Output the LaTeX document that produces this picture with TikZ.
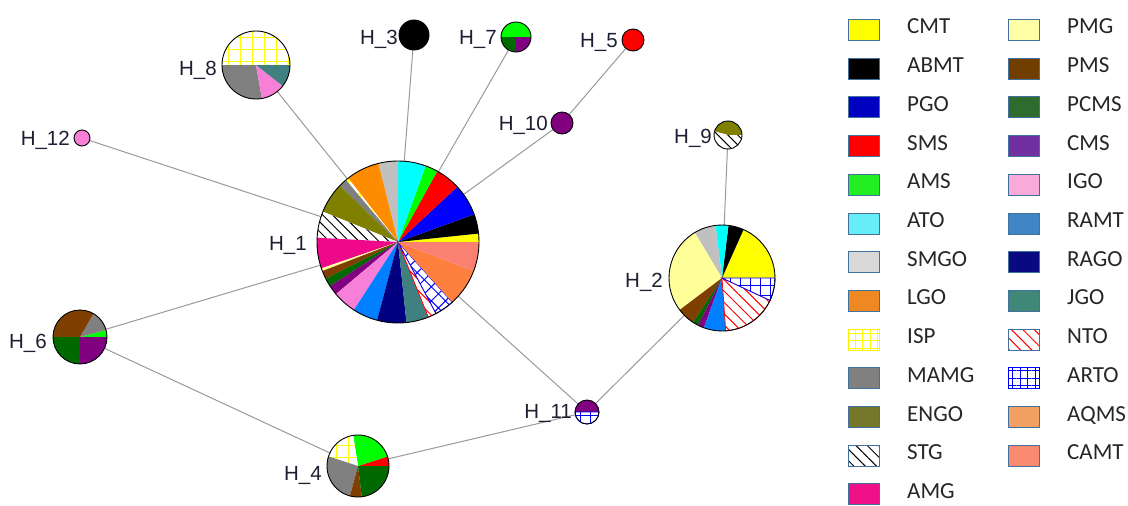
\documentclass[tikz,border=0pt]{standalone}
\usepackage{fontspec}
\setmainfont{Liberation Sans}
\newfontfamily\legfont{Carlito}
\usetikzlibrary{patterns.meta}
% pie colours
\definecolor{pCMT}{HTML}{FFFF00}
\definecolor{pABMT}{HTML}{000000}
\definecolor{pPGO}{HTML}{0000FF}
\definecolor{pSMS}{HTML}{FF0000}
\definecolor{pAMS}{HTML}{00FF00}
\definecolor{pATO}{HTML}{00FFFF}
\definecolor{pSMGO}{HTML}{C0C0C0}
\definecolor{pLGO}{HTML}{FF8C00}
\definecolor{pMAMG}{HTML}{808080}
\definecolor{pENGO}{HTML}{808000}
\definecolor{pAMG}{HTML}{F0088A}
\definecolor{pPMG}{HTML}{FFFF99}
\definecolor{pPMS}{HTML}{7F3F00}
\definecolor{pPCMS}{HTML}{006A00}
\definecolor{pCMS}{HTML}{800080}
\definecolor{pIGO}{HTML}{F77FD8}
\definecolor{pRAMT}{HTML}{0080FF}
\definecolor{pRAGO}{HTML}{000080}
\definecolor{pJGO}{HTML}{408080}
\definecolor{pAQMS}{HTML}{FF7F3F}
\definecolor{pCAMT}{HTML}{FA8072}
% legend colours
\definecolor{lCMT}{HTML}{FFFF00}
\definecolor{lABMT}{HTML}{000000}
\definecolor{lPGO}{HTML}{0000C0}
\definecolor{lSMS}{HTML}{FF0000}
\definecolor{lAMS}{HTML}{22EE22}
\definecolor{lATO}{HTML}{66EEF8}
\definecolor{lSMGO}{HTML}{D9D9D9}
\definecolor{lLGO}{HTML}{EE8822}
\definecolor{lMAMG}{HTML}{808080}
\definecolor{lENGO}{HTML}{77772A}
\definecolor{lAMG}{HTML}{EE1188}
\definecolor{lPMG}{HTML}{FFFFA6}
\definecolor{lPMS}{HTML}{703F00}
\definecolor{lPCMS}{HTML}{2E6B2E}
\definecolor{lCMS}{HTML}{7030A0}
\definecolor{lIGO}{HTML}{F8AAD8}
\definecolor{lRAMT}{HTML}{3F86C6}
\definecolor{lRAGO}{HTML}{0A0A80}
\definecolor{lJGO}{HTML}{3F8878}
\definecolor{lAQMS}{HTML}{F0A060}
\definecolor{lCAMT}{HTML}{F88A70}
\definecolor{lborder}{HTML}{41719C}
\definecolor{edgegray}{HTML}{9A9A9A}
\definecolor{lbltext}{HTML}{1E1E32}
\definecolor{legtext}{HTML}{262626}

\tikzset{
  vtx/.style={circle, inner sep=0pt, outer sep=0pt, minimum size=#1},
  edge/.style={draw=edgegray, line width=1pt},
  pieedge/.style={draw=black, line width=0.9pt},
  lbl/.style={inner sep=0pt, anchor=base east, text=lbltext, font=\fontsize{20.5}{24}\selectfont},
  lbox/.style={rectangle, inner sep=0pt, minimum width=31pt, minimum height=21pt, draw=lborder, line width=0.9pt},
  ltxt/.style={inner sep=0pt, anchor=base west, text=legtext, font=\legfont\fontsize{23}{27}\selectfont},
  sCMT/.style={fill=pCMT}, sABMT/.style={fill=pABMT}, sPGO/.style={fill=pPGO},
  sSMS/.style={fill=pSMS}, sAMS/.style={fill=pAMS}, sATO/.style={fill=pATO},
  sSMGO/.style={fill=pSMGO}, sLGO/.style={fill=pLGO}, sMAMG/.style={fill=pMAMG},
  sENGO/.style={fill=pENGO}, sAMG/.style={fill=pAMG}, sPMG/.style={fill=pPMG},
  sPMS/.style={fill=pPMS}, sPCMS/.style={fill=pPCMS}, sCMS/.style={fill=pCMS},
  sIGO/.style={fill=pIGO}, sRAMT/.style={fill=pRAMT}, sRAGO/.style={fill=pRAGO},
  sJGO/.style={fill=pJGO}, sAQMS/.style={fill=pAQMS}, sCAMT/.style={fill=pCAMT},
  sISP/.style={preaction={fill=white}, pattern={Hatch[angle=0,distance=12pt,line width=1pt]}, pattern color=yellow},
  sSTG/.style={preaction={fill=white}, pattern={Lines[angle=-45,distance=7pt,line width=1pt]}, pattern color=black},
  sNTO/.style={preaction={fill=white}, pattern={Lines[angle=-45,distance=8pt,line width=1pt]}, pattern color=red, draw=red, line width=0.8pt},
  sARTO/.style={preaction={fill=white}, pattern={Hatch[angle=0,distance=10pt,line width=1pt]}, pattern color=blue, draw=blue, line width=0.8pt},
  sARTOd/.style={preaction={fill=white}, pattern={Hatch[angle=45,distance=10pt,line width=1pt]}, pattern color=blue, draw=blue, line width=0.8pt},
  kISP/.style={preaction={fill=white}, pattern={Hatch[angle=0,distance=7.5pt,line width=1pt]}, pattern color=yellow, draw=yellow},
  kSTG/.style={preaction={fill=white}, pattern={Lines[angle=-45,distance=8pt,line width=1pt]}, pattern color=black},
  kNTO/.style={preaction={fill=white}, pattern={Lines[angle=-45,distance=8pt,line width=1pt]}, pattern color=red},
  kARTO/.style={preaction={fill=white}, pattern={Hatch[angle=0,distance=7.5pt,line width=1pt]}, pattern color=blue, draw=blue},
}

\newcommand\drawpie[3]{%
  \foreach \a/\b/\s in {#3}{%
    \fill[\s] (#1.center) -- ++(\a:#2) arc[start angle=\a,end angle=\b,radius=#2] -- cycle;}%
  \draw[pieedge] (#1.center) circle[radius=#2];}

\newcommand\legitem[4]{%
  \pgfmathsetmacro\lx{863.5+160*#3}%
  \pgfmathsetmacro\ly{-(30+38.7*#4)}%
  \node[lbox,#2] (k#1) at (\lx,\ly) {};
  \node[ltxt] (t#1) at (\lx+43.5,\ly-4) {#1};}

\begin{document}
\begin{tikzpicture}[x=1pt,y=1pt]
\useasboundingbox[fill=white] (0,0) rectangle (1128,-506);

% vertices
\node[vtx=162pt] (H1) at (398,-242) {};
\node[vtx=106pt] (H2) at (722,-278) {};
\node[vtx=30pt] (H3) at (414,-35) {};
\node[vtx=62pt] (H4) at (358,-466) {};
\node[vtx=22pt] (H5) at (633,-40) {};
\node[vtx=54pt] (H6) at (80,-337) {};
\node[vtx=30pt] (H7) at (516,-37) {};
\node[vtx=68pt] (H8) at (256,-65) {};
\node[vtx=28pt] (H9) at (728,-135) {};
\node[vtx=22pt] (H10) at (562,-123) {};
\node[vtx=24pt] (H11) at (587,-412) {};
\node[vtx=16pt] (H12) at (82,-138) {};

% edges
\draw[edge] (H1) -- (H3);
\draw[edge] (H1) -- (H7);
\draw[edge] (H1) -- (H10);
\draw[edge] (H10) -- (H5);
\draw[edge] (H1) -- (H8);
\draw[edge] (H1) -- (H12);
\draw[edge] (H1) -- (H6);
\draw[edge] (H1) -- (H11);
\draw[edge] (H11) -- (H2);
\draw[edge] (H11) -- (H4);
\draw[edge] (H4) -- (H6);
\draw[edge] (H2) -- (H9);

% pies
\drawpie{H1}{81}{0/6/sCMT, 6/20/sABMT, 20/43/sPGO, 43/61/sSMS, 61/70/sAMS, 70/90/sATO,
  90/104/sSMGO, 104/128/sLGO, 128/130/sISP, 130/136/sMAMG, 136/158/sENGO, 158/177/sSTG,
  177/199/sAMG, 199/201/sPMG, 201/207/sPMS, 207/213/sPCMS, 213/220/sCMS, 220/237/sIGO,
  237/255/sRAMT, 255/276/sRAGO, 276/292/sJGO, 292/298/sNTO, 298/312/sARTOd, 312/339/sAQMS, 339/360/sCAMT}
\drawpie{H2}{53}{0/66/sCMT, 66/83/sABMT, 83/97/sATO, 97/121/sSMGO, 121/217/sPMG, 217/237/sPMS,
  237/243/sPCMS, 243/250/sCMS, 250/274/sRAMT, 274/335/sNTO, 335/360/sARTO}
\drawpie{H3}{15}{0/360/sABMT}
\drawpie{H4}{31}{0/18/sSMS, 18/99/sAMS, 99/162/sISP, 162/255/sMAMG, 255/277/sPMS, 277/360/sPCMS}
\drawpie{H5}{11}{0/360/sSMS}
\drawpie{H6}{27}{0/15/sAMS, 15/60/sMAMG, 60/180/sPMS, 180/270/sPCMS, 270/360/sCMS}
\drawpie{H7}{15}{0/180/sAMS, 180/270/sPCMS, 270/360/sCMS}
\drawpie{H8}{34}{0/180/sISP, 180/280/sMAMG, 280/322/sIGO, 322/360/sJGO}
\drawpie{H9}{14}{0/165/sENGO, 165/360/sSTG}
\drawpie{H10}{11}{0/360/sCMS}
\drawpie{H11}{12}{0/180/sCMS, 180/360/sARTO}
\drawpie{H12}{8}{0/360/sIGO}

% vertex labels
\node[lbl] (L1) at (307,-250) {H\_1};
\node[lbl] (L2) at (663,-287) {H\_2};
\node[lbl] (L3) at (398,-45) {H\_3};
\node[lbl] (L4) at (322,-480) {H\_4};
\node[lbl] (L5) at (618,-47) {H\_5};
\node[lbl] (L6) at (47,-348) {H\_6};
\node[lbl] (L7) at (497,-45) {H\_7};
\node[lbl] (L8) at (217,-75) {H\_8};
\node[lbl] (L9) at (712,-143) {H\_9};
\node[lbl] (L10) at (548,-130) {H\_10};
\node[lbl] (L11) at (572,-418) {H\_11};
\node[lbl] (L12) at (70,-145) {H\_12};

% legend
\legitem{CMT}{fill=lCMT}{0}{0}
\legitem{ABMT}{fill=lABMT}{0}{1}
\legitem{PGO}{fill=lPGO}{0}{2}
\legitem{SMS}{fill=lSMS}{0}{3}
\legitem{AMS}{fill=lAMS}{0}{4}
\legitem{ATO}{fill=lATO}{0}{5}
\legitem{SMGO}{fill=lSMGO}{0}{6}
\legitem{LGO}{fill=lLGO}{0}{7}
\legitem{ISP}{kISP}{0}{8}
\legitem{MAMG}{fill=lMAMG}{0}{9}
\legitem{ENGO}{fill=lENGO}{0}{10}
\legitem{STG}{kSTG}{0}{11}
\legitem{AMG}{fill=lAMG}{0}{12}
\legitem{PMG}{fill=lPMG}{1}{0}
\legitem{PMS}{fill=lPMS}{1}{1}
\legitem{PCMS}{fill=lPCMS}{1}{2}
\legitem{CMS}{fill=lCMS}{1}{3}
\legitem{IGO}{fill=lIGO}{1}{4}
\legitem{RAMT}{fill=lRAMT}{1}{5}
\legitem{RAGO}{fill=lRAGO}{1}{6}
\legitem{JGO}{fill=lJGO}{1}{7}
\legitem{NTO}{kNTO}{1}{8}
\legitem{ARTO}{kARTO}{1}{9}
\legitem{AQMS}{fill=lAQMS}{1}{10}
\legitem{CAMT}{fill=lCAMT}{1}{11}
\end{tikzpicture}
\end{document}
